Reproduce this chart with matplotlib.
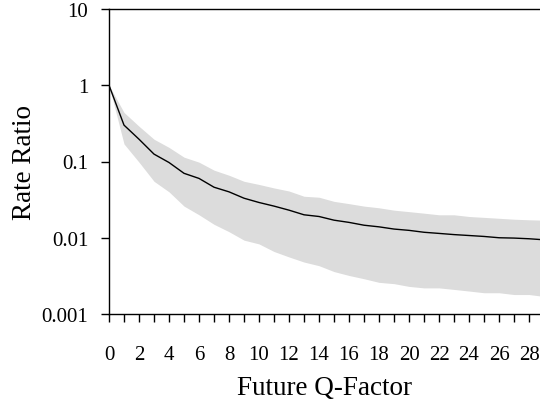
import numpy as np
import matplotlib
matplotlib.use("Agg")
import matplotlib.pyplot as plt

# values (log scale)
q = list(range(0, 30))
ratio = [1.0, 0.30, 0.196, 0.125, 0.097, 0.070, 0.060, 0.046, 0.040, 0.033,
         0.029, 0.026, 0.023, 0.020, 0.019, 0.017, 0.0159, 0.0146, 0.0139, 0.013,
         0.0125, 0.0118, 0.0114, 0.011, 0.0107, 0.0104, 0.0100, 0.0099, 0.0097, 0.0094]
upper = [1.0, 0.44, 0.29, 0.196, 0.153, 0.114, 0.098, 0.077, 0.066, 0.055,
         0.050, 0.045, 0.041, 0.035, 0.034, 0.030, 0.028, 0.026, 0.0247, 0.023,
         0.022, 0.021, 0.020, 0.020, 0.019, 0.0185, 0.018, 0.0175, 0.0172, 0.017]
lower = [1.0, 0.17, 0.098, 0.055, 0.040, 0.026, 0.020, 0.015, 0.012, 0.0093,
         0.0083, 0.0066, 0.0056, 0.0048, 0.0043, 0.0036, 0.0032, 0.0029, 0.0026, 0.0025,
         0.0023, 0.0022, 0.0022, 0.0021, 0.0020, 0.0019, 0.0019, 0.0018, 0.0018, 0.0017]
yticks = [0.001, 0.01, 0.1, 1, 10]
ytick_labels = ["0.001", "0.01", "0.1", "1", "10"]

plt.rcParams["font.family"] = ["Liberation Serif", "DejaVu Serif"]

fig = plt.figure(figsize=(5.4, 4.02), dpi=100)
ax = fig.add_axes([109 / 540, 1 - 315 / 402, 1 - 109 / 540, 305 / 402])

ax.fill_between(q, lower, upper, color="#dcdcdc", lw=0)
ax.plot(q, ratio, color="black", lw=1.0)

ax.set_yscale("log")
ax.set_ylim(0.001, 10)
ax.set_xlim(0, 28.73)
ax.set_yticks(yticks)
ax.set_yticklabels(ytick_labels)
ax.minorticks_off()
ax.set_xticks(range(0, 29))
ax.set_xticklabels([str(i) if i % 2 == 0 else "" for i in range(0, 29)])

ax.spines["right"].set_visible(False)
for s in ["left", "bottom", "top"]:
    ax.spines[s].set_linewidth(1.0)
ax.tick_params(axis="both", direction="out", length=6, width=1.0,
               labelsize=15, color="black")
ax.tick_params(axis="x", pad=16)
ax.tick_params(axis="y", pad=9)

ax.set_xlabel("Future Q-Factor", fontsize=19.5, labelpad=8)
ax.set_ylabel("Rate Ratio", fontsize=19.5, labelpad=3)

fig.savefig("out.png", dpi=100)
